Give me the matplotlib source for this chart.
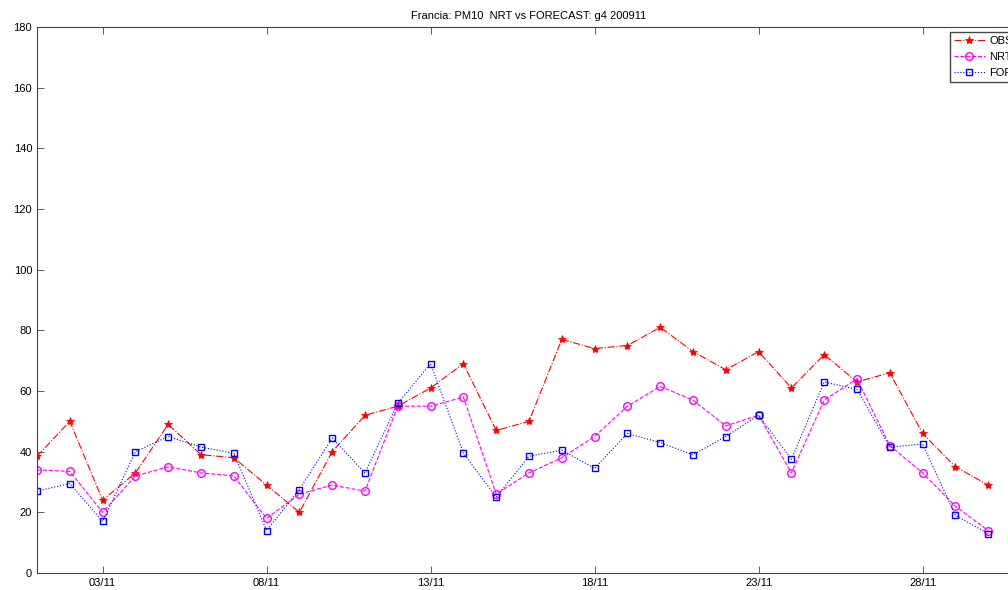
import matplotlib
matplotlib.use('Agg')
from matplotlib import pyplot as plt

plt.rcParams['font.family'] = ['Liberation Sans', 'DejaVu Sans']

days = list(range(1, 31))
obs = [38.5, 50, 24, 33, 49, 39, 38, 29, 20, 40,
       52, 55, 61, 69, 47, 50, 77, 74, 75, 81,
       73, 67, 73, 61, 72, 63, 66, 46, 35, 29]
nrt = [34, 33.5, 20, 32, 35, 33, 32, 18, 26, 29,
       27, 55, 55, 58, 26, 33, 38, 45, 55, 61.5,
       57, 48.5, 52, 33, 57, 64, 42, 33, 22, 14]
forecast = [27, 29.5, 17, 40, 45, 41.5, 39.5, 14, 27.5, 44.5,
            33, 56, 69, 39.5, 25, 38.5, 40.5, 34.5, 46, 43,
            39, 45, 52, 37.5, 63, 60.5, 41.5, 42.5, 19, 13]
tick_days = [3, 8, 13, 18, 23, 28]
tick_labels = ['03/11', '08/11', '13/11', '18/11', '23/11', '28/11']

fig = plt.figure(figsize=(10.08, 5.9), dpi=100)
# axes runs past the right edge of the figure like the original screenshot
ax = fig.add_axes([37 / 1008, 17 / 590, 984 / 1008, 546 / 590])

ax.plot(days, obs, color='red', linestyle='-.', marker='*', markersize=6,
        markeredgewidth=0.6, linewidth=0.8, label='OBS')
ax.plot(days, nrt, color='magenta', linestyle='--', marker='o', markersize=5.5,
        markerfacecolor='none', linewidth=0.8, label='NRT')
ax.plot(days, forecast, color='blue', linestyle=':', marker='s', markersize=5,
        markerfacecolor='none', linewidth=0.8, label='FORECAST')

ax.set_xlim(1, 31)
ax.set_ylim(0, 180)
ax.set_yticks(range(0, 181, 20))
ax.set_xticks(tick_days)
ax.set_xticklabels(tick_labels)
ax.tick_params(direction='in', top=True, right=True, labelsize=8, length=5,
               width=0.6, color='#444444')
for s in ax.spines.values():
    s.set_linewidth(0.8)
    s.set_color('#444444')

ax.set_title('Francia: PM10  NRT vs FORECAST: g4 200911', fontsize=8, pad=6)

ax.legend(loc='upper left', bbox_to_anchor=(950 / 1008, 1 - 32 / 590),
          bbox_transform=fig.transFigure, fontsize=8, fancybox=False,
          edgecolor='#444444', framealpha=1, handlelength=2.8,
          borderpad=0.35, labelspacing=0.55, handletextpad=0.4,
          borderaxespad=0)

plt.savefig('out.png', dpi=100)
